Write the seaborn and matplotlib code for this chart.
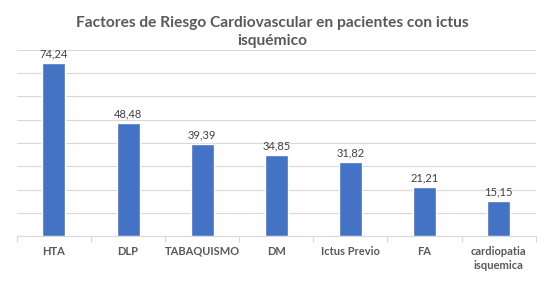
import matplotlib
matplotlib.use("Agg")
import matplotlib.pyplot as plt
import seaborn as sns
import pandas as pd
import numpy as np

categories = ["HTA", "DLP", "TABAQUISMO", "DM", "Ictus Previo", "FA", "cardiopatia\nisquemica"]
values = [74.24, 48.48, 39.39, 34.85, 31.82, 21.21, 15.15]
value_labels = ["74,24", "48,48", "39,39", "34,85", "31,82", "21,21", "15,15"]
title = "Factores de Riesgo Cardiovascular en pacientes con ictus\nisquémico"

sns.set_theme(style="white")
plt.rcParams['font.family'] = ['Lato', 'DejaVu Sans']

df = pd.DataFrame({"cat": categories, "val": values})

fig = plt.figure(figsize=(5.45, 2.9), dpi=100)
ax = fig.add_axes([0.031, 0.186, 0.952, 0.642])
sns.barplot(data=df, x="cat", y="val", color="#4472C4", width=0.31, saturation=1, ax=ax, zorder=3)

ax.set_ylim(0, 80)
ax.set_xlim(-0.5, len(categories) - 0.5)
ax.set_yticks(np.arange(0, 81, 10))
ax.yaxis.grid(True, color="#D9D9D9", linewidth=0.8, zorder=0)
ax.tick_params(axis="y", left=False, labelleft=False)
ax.set_xlabel("")
ax.set_ylabel("")
for s in ["top", "right", "left"]:
    ax.spines[s].set_visible(False)
ax.spines["bottom"].set_color("#D9D9D9")
ax.spines["bottom"].set_linewidth(0.8)

ax.set_xticks(range(len(categories)))
ax.set_xticklabels(categories, fontsize=8, fontweight="bold", color="#595959", linespacing=1.35)
ax.tick_params(axis="x", which="major", length=0, pad=7)
ax.set_xticks(np.arange(-0.5, len(categories), 1), minor=True)
ax.tick_params(axis="x", which="minor", length=4, color="#D9D9D9", width=0.8, bottom=True)

for i, (v, lab) in enumerate(zip(values, value_labels)):
    ax.text(i, v + 1.5, lab, ha="center", va="bottom", fontsize=8, color="#404040")

fig.suptitle(title, y=0.945, va="top", fontsize=11.2, fontweight="bold", color="#595959", linespacing=1.4)

fig.savefig("out.png", dpi=100)
